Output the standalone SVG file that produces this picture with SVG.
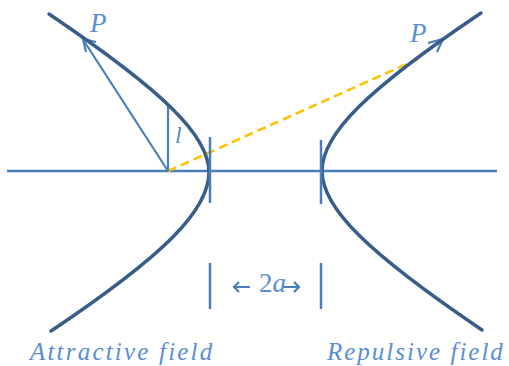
<svg xmlns="http://www.w3.org/2000/svg" width="509" height="366" viewBox="0 0 509 366">
<style>
.axis{stroke:#4a7ebb;stroke-width:2.5;fill:none}
.curve{stroke:#385d8a;stroke-width:3.5;fill:none;stroke-linecap:round}
.vec{stroke:#4a7ebb;stroke-width:2.2;fill:none}
.dash{stroke:#ffc000;stroke-width:2.5;fill:none;stroke-dasharray:9 5}
.lbl{font-family:"Liberation Serif","Times New Roman",serif;font-style:italic;fill:#5a8ed0}
</style>
<rect width="509" height="366" fill="#ffffff"/>
<g id="connectors">
<line class="axis" x1="7" y1="171" x2="497" y2="171"/>
<line class="dash" x1="168" y1="171" x2="418" y2="59"/>
<line class="vec" x1="168" y1="171" x2="168" y2="104"/>
<line class="vec" x1="168" y1="171" x2="84" y2="41"/>
<path class="vec" d="M96,42 L83,39 L86,52"/>
<line class="vec" x1="420" y1="56" x2="442" y2="40"/>
<path class="vec" d="M428,43 L443,39 L437,52"/>
<path class="vec" d="M250,287 H234 M239,282 L234,287 L239,292"/>
<path class="vec" d="M282,287 H299 M294,282 L299,287 L294,292"/>
</g>
<g id="attractive-branch">
<path class="curve" d="M49,14 C164.2,91.8 209,136 209,172 C209,210.2 164.8,254.7 51,331"/>
</g>
<g id="repulsive-branch">
<path class="curve" d="M481,13 C366.5,90 322,134.3 322,171 C322,207.7 366.8,252.2 482,330"/>
</g>
<g id="ticks">
<line class="axis" x1="210" y1="137" x2="210" y2="203"/>
<line class="axis" x1="321" y1="140" x2="321" y2="204"/>
<line class="axis" x1="210" y1="263" x2="210" y2="309"/>
<line class="axis" x1="321" y1="263" x2="321" y2="309"/>
</g>
<g id="labels">
<text class="lbl" x="90" y="32" font-size="27">P</text>
<text class="lbl" x="410" y="42" font-size="27">P</text>
<text class="lbl" x="175" y="143" font-size="24">l</text>
<text class="lbl" x="259" y="292" font-size="27"><tspan font-style="normal">2</tspan>a</text>
<text class="lbl" x="30" y="360" font-size="25" letter-spacing="2.2">Attractive field</text>
<text class="lbl" x="327" y="360" font-size="25" letter-spacing="2">Repulsive field</text>
</g>
</svg>
